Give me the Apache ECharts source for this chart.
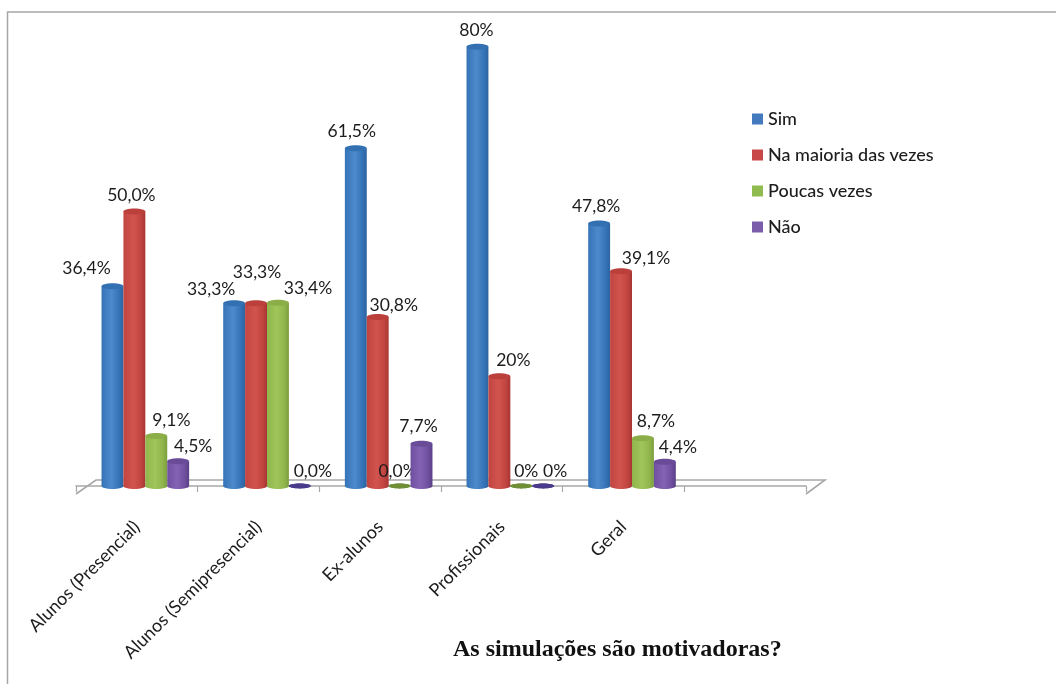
<!DOCTYPE html>
<html>
<head>
<meta charset="utf-8">
<style>html,body{margin:0;padding:0;background:#fff}#chart{width:1056px;height:684px}</style>
<script src="https://cdn.jsdelivr.net/npm/echarts@6/dist/echarts.min.js"></script>
</head>
<body>
<div id="chart"></div>
<script>
// Survey results: share of answers per respondent group
const categories = ['Alunos (Presencial)', 'Alunos (Semipresencial)', 'Ex-alunos', 'Profissionais', 'Geral', ''];
const seriesNames = ['Sim', 'Na maioria das vezes', 'Poucas vezes', 'Não'];

const sim = [36.4, 33.3, 61.5, 80, 47.8];
const maioria = [50.0, 33.3, 30.8, 20, 39.1];
const poucas = [9.1, 33.4, 0.0, 0, 8.7];
const nao = [4.5, 0.0, 7.7, 0, 4.4];

const simLabels = ['36,4%', '33,3%', '61,5%', '80%', '47,8%'];
const maioriaLabels = ['50,0%', '33,3%', '30,8%', '20%', '39,1%'];
const poucasLabels = ['9,1%', '33,4%', '0,0%', '0%', '8,7%'];
const naoLabels = ['4,5%', '0,0%', '7,7%', '0%', '4,4%'];

// Hand placement of the value labels relative to each cylinder top, to avoid collisions
const labelShifts = [
  [[-26, -18], [-23, -14], [-4, -17], [-1, -16], [-3, -17]],
  [[-3, -16], [1, -31], [16, -12], [14, -16], [25, -13]],
  [[15, -16], [30, -14], [-2, -15], [5, -15], [13, -17]],
  [[15, -15], [13, -15], [-3, -17], [12, -15], [13, -14]]
];

const palette = [
  { legend: '#4379bd', edge: '#3573b8', mid: '#4d8acb', dark: '#2d639e', cap: '#3370b2' },
  { legend: '#c8484a', edge: '#c04440', mid: '#d3544f', dark: '#a83633', cap: '#bb403c' },
  { legend: '#90bb4e', edge: '#8fb54c', mid: '#a0c65a', dark: '#7b9e3e', cap: '#8cae48' },
  { legend: '#7a5cab', edge: '#6f4f9f', mid: '#8463b5', dark: '#5a3f88', cap: '#6a4b98' }
];
const flatColors = ['#2d639e', '#a83633', '#6e8f36', '#4a3a8c'];

const FONT = 'Lato, "Open Sans", sans-serif';
const GRID_LEFT = 76, GRID_WIDTH = 730, BASE_Y = 486;
const PX_PER_PERCENT = 5.49, Y_MAX = 86;

function cylinderSeries(name, values, labels, idx) {
  const c = palette[idx];
  const body = {
    type: 'linear', x: 0, y: 0, x2: 1, y2: 0,
    colorStops: [
      { offset: 0, color: c.edge }, { offset: 0.45, color: c.mid },
      { offset: 0.8, color: c.edge }, { offset: 1, color: c.dark }
    ]
  };
  return {
    type: 'custom',
    name: name,
    coordinateSystem: 'cartesian2d',
    data: values.map((v, i) => [i, v]),
    encode: { x: 0, y: 1 },
    itemStyle: { color: c.legend },
    silent: true,
    z: 3,
    renderItem(params, api) {
      const i = api.value(0);
      const top = api.coord([i, api.value(1)]);
      const base = api.coord([i, 0]);
      const w = api.size([1, 0])[0] * 0.18;
      const ry = 3;
      const cx = top[0] + 8.5 + (idx - 1.5) * w;
      const h = base[1] - top[1];
      const shift = labelShifts[idx][i];
      const flat = h <= 0;
      const children = [
        { type: 'ellipse', shape: { cx, cy: base[1], rx: w / 2, ry: flat ? 2.4 : ry }, style: { fill: flat ? flatColors[idx] : body } },
        { type: 'rect', shape: { x: cx - w / 2, y: top[1], width: w, height: h }, style: { fill: body } },
        { type: 'ellipse', shape: { cx, cy: top[1], rx: w / 2, ry: flat ? 2.4 : ry }, style: { fill: flat ? flatColors[idx] : c.cap } },
        {
          type: 'text',
          style: {
            x: cx + shift[0], y: top[1] + shift[1],
            text: labels[i], fill: '#1c1c1c', font: '17.5px ' + FONT,
            align: 'center', verticalAlign: 'middle'
          }
        }
      ];
      return { type: 'group', children };
    }
  };
}

// Perspective floor behind the bars
const floorSeries = {
  type: 'custom',
  coordinateSystem: 'cartesian2d',
  data: [[0, 0]],
  encode: { x: 0, y: 1 },
  silent: true,
  z: 1,
  renderItem(params) {
    const s = params.coordSys;
    const b = s.y + s.height;
    return {
      type: 'polyline',
      shape: { points: [[s.x, b + 8], [s.x + 20, b - 6], [s.x + s.width + 19, b - 6], [s.x + s.width, b + 8]] },
      style: { stroke: '#a8a8a8', lineWidth: 1.6, fill: null }
    };
  }
};

const chart = echarts.init(document.getElementById('chart'));
chart.setOption({
  animation: false,
  backgroundColor: '#ffffff',
  title: {
    text: 'As simulações são motivadoras?',
    left: 448, top: 633,
    textStyle: { fontFamily: '"Liberation Serif", serif', fontWeight: 'bold', fontSize: 24, color: '#111' }
  },
  legend: {
    orient: 'vertical', left: 747, top: 105,
    itemWidth: 11, itemHeight: 11, itemGap: 18,
    icon: 'rect',
    data: seriesNames,
    selectedMode: false,
    textStyle: { fontFamily: FONT, fontSize: 18, fontWeight: 500, color: '#1c1c1c', height: 18, lineHeight: 18 }
  },
  grid: {
    left: GRID_LEFT, width: GRID_WIDTH,
    top: BASE_Y - Y_MAX * PX_PER_PERCENT, height: Y_MAX * PX_PER_PERCENT
  },
  xAxis: {
    type: 'category',
    data: categories,
    offset: 8,
    axisLine: { lineStyle: { color: '#a8a8a8', width: 1.6 } },
    axisTick: { show: true, length: 6, lineStyle: { color: '#a8a8a8', width: 1.2 } },
    axisLabel: { rotate: 45, interval: 0, margin: 30, fontFamily: FONT, fontSize: 18, color: '#1c1c1c' },
    splitLine: { show: false }
  },
  yAxis: { type: 'value', min: 0, max: Y_MAX, show: false, splitLine: { show: false } },
  graphic: [{
    type: 'polyline',
    shape: { points: [[7.5, 684], [7.5, 12], [1056, 12]] },
    style: { stroke: '#a6a6a6', lineWidth: 1.5, fill: null },
    silent: true
  }],
  series: [
    floorSeries,
    cylinderSeries(seriesNames[0], sim, simLabels, 0),
    cylinderSeries(seriesNames[1], maioria, maioriaLabels, 1),
    cylinderSeries(seriesNames[2], poucas, poucasLabels, 2),
    cylinderSeries(seriesNames[3], nao, naoLabels, 3)
  ]
});
</script>
</body>
</html>
